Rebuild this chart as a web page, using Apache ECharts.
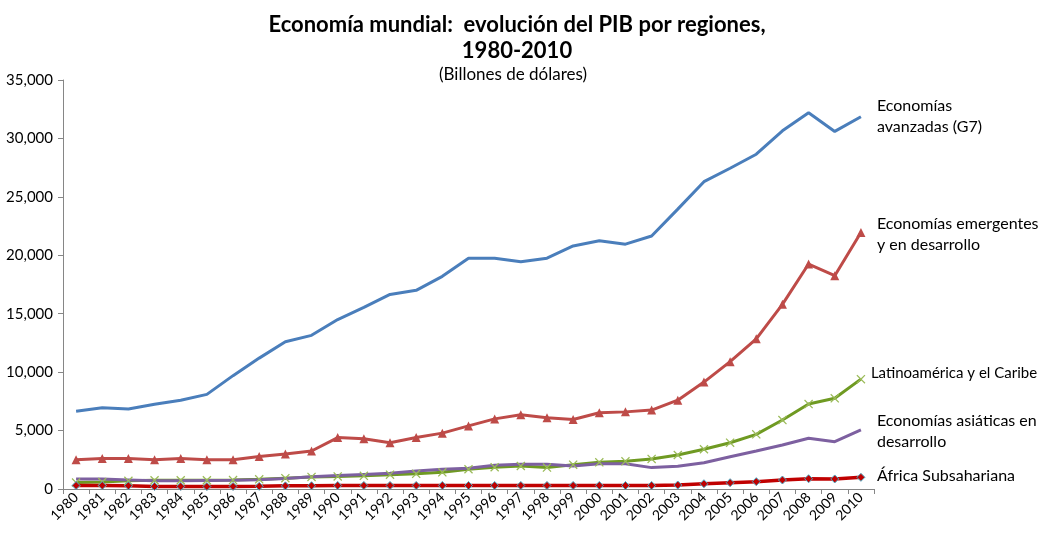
<!DOCTYPE html>
<html>
<head>
<meta charset="utf-8">
<script src="https://cdn.jsdelivr.net/npm/echarts@6/dist/echarts.min.js"></script>
<style>
	html, body { margin: 0; padding: 0; background: #fff; }
	#chart { width: 1043px; height: 535px; }
</style>
</head>
<body>
<div id="chart"></div>
<script>
var years = ['1980','1981','1982','1983','1984','1985','1986','1987','1988','1989','1990',
	'1991','1992','1993','1994','1995','1996','1997','1998','1999','2000',
	'2001','2002','2003','2004','2005','2006','2007','2008','2009','2010'];

var g7 = [6650, 6950, 6850, 7250, 7600, 8100, 9700, 11200, 12600, 13150, 14500,
	15550, 16650, 17000, 18200, 19750, 19750, 19450, 19750, 20800, 21250,
	20950, 21650, 23950, 26300, 27450, 28650, 30650, 32200, 30600, 31850];
var emergentes = [2500, 2600, 2600, 2500, 2600, 2500, 2500, 2780, 3000, 3250, 4400,
	4300, 3950, 4400, 4780, 5400, 6000, 6350, 6100, 5950, 6530,
	6600, 6750, 7600, 9150, 10900, 12850, 15800, 19250, 18250, 21950];
var latino = [550, 600, 700, 750, 750, 750, 760, 830, 930, 1030, 1080,
	1130, 1230, 1300, 1430, 1690, 1860, 1970, 1830, 2080, 2280,
	2370, 2570, 2910, 3400, 3960, 4680, 5900, 7270, 7760, 9400];
var asiaticas = [850, 850, 780, 700, 700, 730, 750, 800, 900, 1050, 1150,
	1250, 1350, 1550, 1700, 1780, 2030, 2110, 2110, 1970, 2170,
	2170, 1830, 1940, 2250, 2760, 3250, 3770, 4340, 4050, 5050];
var africa = [300, 300, 280, 220, 220, 210, 220, 230, 270, 280, 300,
	300, 300, 300, 300, 300, 300, 300, 300, 300, 300,
	300, 300, 340, 450, 540, 630, 770, 880, 860, 1000];

var seriesNames = ['Economías\navanzadas (G7)', 'Economías emergentes\ny en desarrollo',
	'Latinoamérica y el Caribe', 'Economías asiáticas en\ndesarrollo', 'África Subsahariana'];

var fontFam = 'Lato, "Open Sans", sans-serif';
var xMark = 'path://M0,1L1,0L5,4L9,0L10,1L6,5L10,9L9,10L5,6L1,10L0,9L4,5Z';

function endLbl(dx, dy, size) {
	return {
		show: true,
		formatter: '{a}',
		distance: 16,
		offset: [dx, dy],
		color: '#000',
		fontFamily: fontFam,
		fontSize: size || 16,
		lineHeight: 21,
		align: 'left'
	};
}

var myChart = echarts.init(document.getElementById('chart'));
myChart.setOption({
	animation: false,
	title: [{
		text: 'Economía mundial:  evolución del PIB por regiones,\n1980-2010',
		left: 512,
		top: 7,
		textAlign: 'center',
		textStyle: {
			fontFamily: fontFam,
			fontSize: 22,
			fontWeight: 'bold',
			color: '#000',
			lineHeight: 26,
			align: 'center'
		}
	}, {
		text: '(Billones de dólares)',
		left: 508,
		top: 61,
		textAlign: 'center',
		textStyle: {
			fontFamily: fontFam,
			fontSize: 17,
			fontWeight: 'normal',
			color: '#000'
		}
	}],
	grid: {
		left: 63,
		right: 169,
		top: 80,
		bottom: 46
	},
	xAxis: {
		type: 'category',
		data: years,
		boundaryGap: true,
		axisLine: { lineStyle: { color: '#868686' } },
		axisTick: { show: true, length: 5, lineStyle: { color: '#868686' } },
		axisLabel: {
			interval: 0,
			rotate: 45,
			margin: 6,
			color: '#000',
			fontFamily: fontFam,
			fontSize: 14
		},
		splitLine: { show: false }
	},
	yAxis: {
		type: 'value',
		min: 0,
		max: 35000,
		interval: 5000,
		axisLine: { show: true, lineStyle: { color: '#868686' } },
		axisTick: { show: true, length: 5, lineStyle: { color: '#868686' } },
		axisLabel: {
			color: '#000',
			fontFamily: fontFam,
			fontSize: 15,
			margin: 10,
			formatter: function (v) { return v.toLocaleString('en-US'); }
		},
		splitLine: { show: false }
	},
	series: [{
		name: seriesNames[0],
		type: 'line',
		data: g7,
		showSymbol: false,
		symbol: 'none',
		lineStyle: { color: '#4a7ebb', width: 3 },
		itemStyle: { color: '#4a7ebb' },
		endLabel: endLbl(0, 0)
	}, {
		name: seriesNames[1],
		type: 'line',
		data: emergentes,
		symbol: 'triangle',
		symbolSize: 9,
		lineStyle: { color: '#be4b48', width: 3 },
		itemStyle: { color: '#be4b48' },
		endLabel: endLbl(0, 2)
	}, {
		name: seriesNames[2],
		type: 'line',
		data: latino,
		symbol: xMark,
		symbolSize: 9,
		lineStyle: { color: '#6f9a22', width: 3 },
		itemStyle: { color: '#9bbb59' },
		endLabel: endLbl(-6, -6, 15)
	}, {
		name: seriesNames[3],
		type: 'line',
		data: asiaticas,
		symbol: 'none',
		lineStyle: { color: '#7d60a0', width: 3 },
		itemStyle: { color: '#7d60a0' },
		endLabel: endLbl(0, 1)
	}, {
		name: seriesNames[4],
		type: 'line',
		data: africa,
		symbol: 'diamond',
		symbolSize: 8,
		lineStyle: { color: '#c00000', width: 3.5 },
		itemStyle: { color: '#c00000', borderColor: '#4bacc6', borderWidth: 1 },
		endLabel: endLbl(0, -1)
	}]
});
</script>
</body>
</html>
